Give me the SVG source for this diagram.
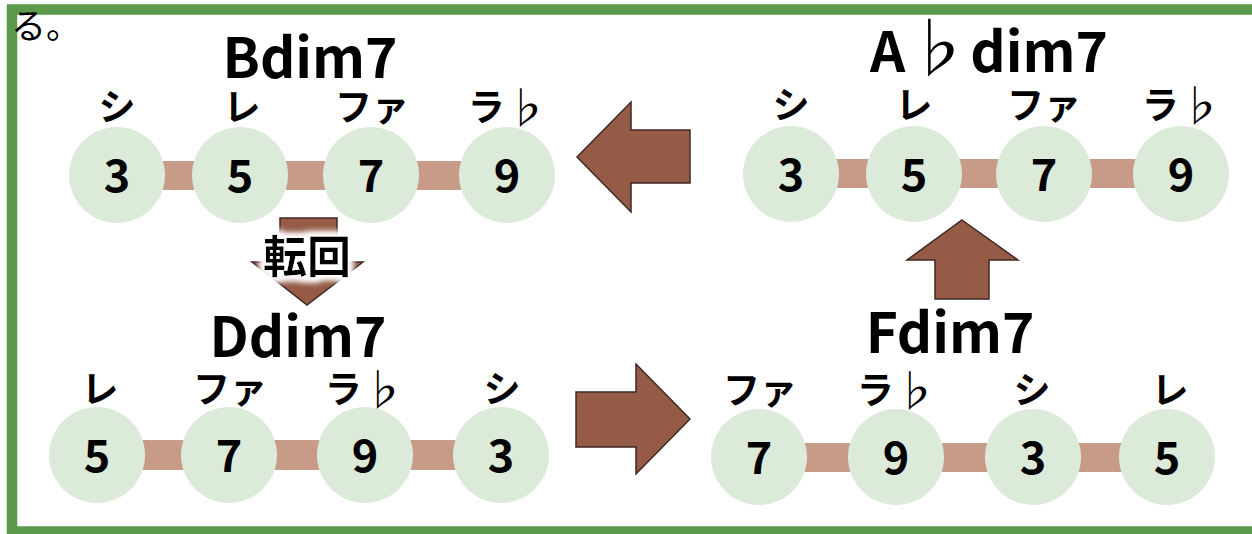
<svg xmlns="http://www.w3.org/2000/svg" width="1252" height="534" viewBox="0 0 1252 534">
  <defs>
    <style>
      .frame { fill: none; stroke: #5B9A4B; stroke-width: 10.5; }
      .bar { fill: #C89A88; }
      .tone { fill: #DCEBD9; }
      .num { font-family: 'Noto Sans CJK JP', 'Noto Sans', sans-serif; font-weight: 700; font-size: 45px; fill: #000; text-anchor: middle; }
      .lbl { font-family: 'Noto Sans CJK JP', 'Noto Sans', sans-serif; font-weight: 700; font-size: 37px; fill: #000; text-anchor: middle; dominant-baseline: central; }
      .ttl { font-family: 'Noto Sans CJK JP', 'Noto Sans', sans-serif; font-weight: 700; font-size: 55px; fill: #000; text-anchor: middle; }
      .flat { font-weight: 400; font-size: 118%; }
      .arrow { fill: #955B47; stroke: #3E2A23; stroke-width: 1.5; stroke-linejoin: miter; }
      .note { font-family: 'Noto Sans CJK JP', 'Noto Sans', sans-serif; font-size: 35px; fill: #000; }
      .turn { font-family: 'Noto Sans CJK JP', 'Noto Sans', sans-serif; font-weight: 700; font-size: 44px; fill: #000; text-anchor: middle; }
    </style>
    <filter id="halo" x="-30%" y="-40%" width="160%" height="180%">
      <feMorphology in="SourceAlpha" operator="dilate" radius="4" result="fat"/>
      <feGaussianBlur in="fat" stdDeviation="3" result="soft"/>
      <feFlood flood-color="#FFFFFF"/>
      <feComposite in2="soft" operator="in" result="glow"/>
      <feMerge>
        <feMergeNode in="glow"/>
        <feMergeNode in="glow"/>
        <feMergeNode in="SourceGraphic"/>
      </feMerge>
    </filter>
  </defs>

  <rect width="1252" height="534" fill="#FFFFFF"/>
  <!-- outer frame, right edge runs past the canvas -->
  <rect class="frame" x="12" y="9.5" width="1260" height="522"/>
  <text class="note" x="11" y="39">る。</text>

  <!-- block arrows linking the chords -->
  <g id="connectors">
    <polygon class="arrow" points="577,157 631,102 631,130 690,130 690,183 631,183 631,212"/>
    <polygon class="arrow" points="962,220 1018,260 989,260 989,299 935,299 935,260 907,260"/>
    <polygon class="arrow" points="576,392 636,392 636,364 690,419 636,474 636,447 576,447"/>
    <polygon class="arrow" points="280,218 337,218 337,262 363,262 307,305 252,262 280,262"/>
    <text class="turn" x="307" y="273" filter="url(#halo)">転回</text>
  </g>

  <!-- Bdim7 -->
  <g id="chord-bdim7">
    <text class="ttl" x="310" y="78">Bdim7</text>
    <rect class="bar" x="117" y="161" width="390" height="29"/>
    <circle class="tone" cx="117" cy="175" r="48"/>
    <circle class="tone" cx="240" cy="175" r="48"/>
    <circle class="tone" cx="371" cy="175" r="48"/>
    <circle class="tone" cx="507" cy="175" r="48"/>
    <text class="num" x="117" y="192">3</text>
    <text class="num" x="240" y="192">5</text>
    <text class="num" x="371" y="192">7</text>
    <text class="num" x="507" y="192">9</text>
    <text class="lbl" x="117" y="105">シ</text>
    <text class="lbl" x="242" y="105">レ</text>
    <text class="lbl" x="372" y="105">ファ</text>
    <text class="lbl" x="508" y="105">ラ<tspan class="flat">♭</tspan></text>
  </g>

  <!-- A♭dim7 -->
  <g id="chord-abdim7">
    <text class="ttl" x="989" y="72">A<tspan class="flat">♭</tspan>dim7</text>
    <rect class="bar" x="791" y="159" width="390" height="29"/>
    <circle class="tone" cx="791" cy="174" r="48"/>
    <circle class="tone" cx="914" cy="174" r="48"/>
    <circle class="tone" cx="1044" cy="174" r="48"/>
    <circle class="tone" cx="1181" cy="174" r="48"/>
    <text class="num" x="791" y="191">3</text>
    <text class="num" x="914" y="191">5</text>
    <text class="num" x="1044" y="191">7</text>
    <text class="num" x="1181" y="191">9</text>
    <text class="lbl" x="791" y="103">シ</text>
    <text class="lbl" x="914" y="103">レ</text>
    <text class="lbl" x="1044" y="103">ファ</text>
    <text class="lbl" x="1182" y="103">ラ<tspan class="flat">♭</tspan></text>
  </g>

  <!-- Ddim7 -->
  <g id="chord-ddim7">
    <text class="ttl" x="298" y="357">Ddim7</text>
    <rect class="bar" x="97" y="440" width="404" height="30"/>
    <circle class="tone" cx="97" cy="455" r="48"/>
    <circle class="tone" cx="229" cy="455" r="48"/>
    <circle class="tone" cx="365" cy="455" r="48"/>
    <circle class="tone" cx="501" cy="455" r="48"/>
    <text class="num" x="97" y="472">5</text>
    <text class="num" x="229" y="472">7</text>
    <text class="num" x="365" y="472">9</text>
    <text class="num" x="501" y="472">3</text>
    <text class="lbl" x="100" y="387">レ</text>
    <text class="lbl" x="230" y="387">ファ</text>
    <text class="lbl" x="365" y="387">ラ<tspan class="flat">♭</tspan></text>
    <text class="lbl" x="502" y="387">シ</text>
  </g>

  <!-- Fdim7 -->
  <g id="chord-fdim7">
    <text class="ttl" x="950" y="353">Fdim7</text>
    <rect class="bar" x="759" y="443" width="408" height="29"/>
    <circle class="tone" cx="759" cy="457" r="48"/>
    <circle class="tone" cx="896" cy="457" r="48"/>
    <circle class="tone" cx="1033" cy="457" r="48"/>
    <circle class="tone" cx="1167" cy="457" r="48"/>
    <text class="num" x="759" y="474">7</text>
    <text class="num" x="896" y="474">9</text>
    <text class="num" x="1033" y="474">3</text>
    <text class="num" x="1167" y="474">5</text>
    <text class="lbl" x="760" y="388">ファ</text>
    <text class="lbl" x="897" y="388">ラ<tspan class="flat">♭</tspan></text>
    <text class="lbl" x="1032" y="388">シ</text>
    <text class="lbl" x="1170" y="388">レ</text>
  </g>
</svg>
